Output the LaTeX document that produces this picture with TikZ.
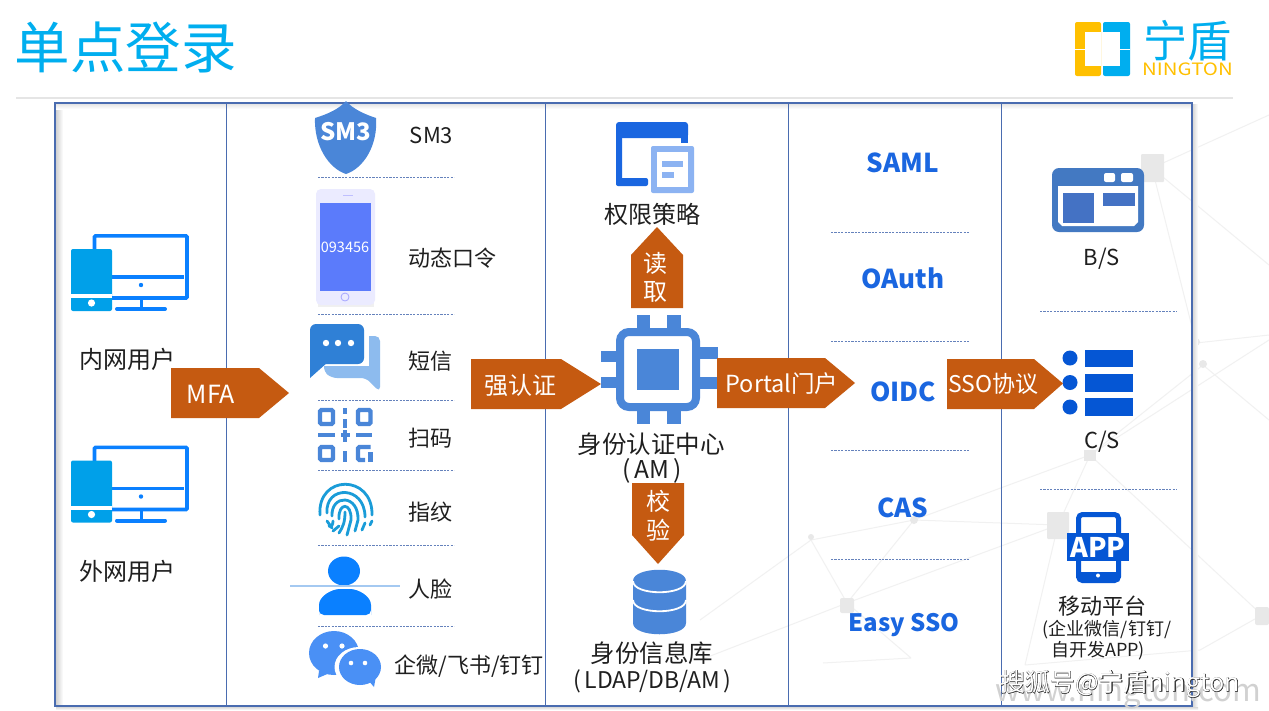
\documentclass[tikz,border=0pt]{standalone}
\usepackage{fontspec}
\setmainfont{Noto Sans CJK SC}
\definecolor{orangeA}{HTML}{C55A11}
\definecolor{frameB}{HTML}{4A6CB0}
\definecolor{iconB}{HTML}{4A86D8}
\definecolor{protoB}{HTML}{1A66E0}
\definecolor{pcB}{HTML}{0A80FF}
\definecolor{pcC}{HTML}{00A0E9}
\definecolor{cyanT}{HTML}{00AEEF}
\definecolor{netG}{HTML}{F1F1F1}
\definecolor{netD}{HTML}{E8E8E8}
\definecolor{csB}{HTML}{0556D4}
\definecolor{screenB}{HTML}{5B7BFB}
\definecolor{bubbleD}{HTML}{2F80D6}
\definecolor{bubbleL}{HTML}{8DBBEE}
\definecolor{chatB}{HTML}{4A90F5}
\definecolor{cardL}{HTML}{8CB3F2}
\definecolor{fingerB}{HTML}{1A9CD8}
\definecolor{blockB}{HTML}{4472C4}
\definecolor{yellowL}{HTML}{FFC000}
\tikzset{
  ft/.style={font=\fontsize{#1}{#1}\selectfont},
  lab/.style={ft=#1,text=black!88,inner sep=0pt},
  lab/.default=22,
  wlab/.style={ft=#1,text=white,inner sep=0pt},
  proto/.style={font=\fontsize{#1}{#1}\selectfont\bfseries,text=protoB,inner sep=0pt},
  proto/.default=26,
  divider/.style={frameB,line width=0.9pt},
  sep/.style={draw=frameB!85,line width=0.7pt,dash pattern=on 2.2pt off 1.2pt},
  arrowfill/.style={fill=orangeA},
  net/.style={draw=netG,line width=1pt},
  pcicon/.pic={
    \draw[pcB,line width=3.6pt,rounded corners=1pt] (23.5,2) -- (23.5,-13.2) -- (116,-13.2) -- (116,49) -- (40,49);
    \draw[pcB,line width=3.2pt] (40,28) -- (113,28);
    \fill[pcB] (70,36) circle (2.2pt);
    \draw[pcB,line width=3pt] (70,50) -- (70,60);
    \draw[pcB,line width=4pt,line cap=round] (46,60) -- (94,60);
    \fill[pcC,rounded corners=2pt] (0,0) rectangle (41,62);
    \fill[white] (0,45) rectangle (41,49);
    \fill[white] (20.5,54) circle (3.6pt);
  }
}
\begin{document}
\begin{tikzpicture}[x=1pt,y=-1pt]
\useasboundingbox (0,0) rectangle (1269,710);
\fill[white] (0,0) rectangle (1269,710);
% background network
\draw[net] (1152,168) -- (1269,115) (1152,168) -- (1269,265) (1152,168) -- (1196,343) (1196,343) -- (1269,335) (1203,365) -- (1269,420) (1090,455) -- (1203,365) (914,520) -- (1058,525) (914,520) -- (847,603) (811,540) -- (847,603) (811,540) -- (914,520) (811,540) -- (700,620) (847,603) -- (1058,525) (847,603) -- (700,660) (1090,455) -- (914,520) (1090,455) -- (1058,525) (1090,455) -- (1262,615) (1058,525) -- (1025,665) (1025,665) -- (1200,650) (1200,650) -- (1262,615) (1090,455) -- (1269,340) (823,663) -- (911,658) (911,658) -- (847,603);
\fill[netD,rounded corners=1pt] (1141,154) rectangle (1164,182);
\fill[netD,rounded corners=1pt] (1047,512) rectangle (1069,539);
\fill[netD] (1084,450) rectangle (1096,461);
\fill[netD,rounded corners=2pt] (840,598) rectangle (854,613);
\fill[netD,rounded corners=2pt] (1255,607) rectangle (1269,625);
\fill[netD] (1203,364) circle (4pt);
\fill[netD] (914,520) circle (4pt);
\fill[netD] (811,537) circle (3pt);
\fill[netD] (1196,342) circle (4pt);
% title and rule
\node[ft=55.5,text=cyanT,inner sep=0pt] (title) at (125.5,47) {单点登录};
\draw[black!10,line width=2pt] (16,98) -- (1233,98);
% logo
\fill[yellowL,rounded corners=2pt] (1075,22) rectangle (1101,76);
\fill[white] (1085,32) rectangle (1101,66);
\fill[white] (1075,48.5) rectangle (1086,50);
\fill[cyanT,rounded corners=2pt] (1103,22) rectangle (1130,76);
\fill[white] (1103,32) rectangle (1120,66);
\fill[white] (1119,48.5) rectangle (1130,50);
\node[ft=44,text=cyanT,inner sep=0pt] (logoa) at (1187.5,41) {宁盾};
\node[ft=17,text=yellowL,inner sep=0pt,xscale=1.2] (logob) at (1187.5,69.5) {NINGTON};
% frame shadows
\shade[left color=black!18,right color=white] (56,104) rectangle (63,705);
\shade[top color=black!10,bottom color=white] (56,104) rectangle (1191,109);
\shade[left color=black!15,right color=white] (1193,104) rectangle (1198,707);
\shade[top color=black!15,bottom color=white] (56,707) rectangle (1198,710);
\draw[frameB,line width=1.7pt] (55,103) rectangle (1192,706);
\draw[divider] (226.5,103) -- (226.5,706);
\draw[divider] (545.5,103) -- (545.5,706);
\draw[divider] (788.5,103) -- (788.5,706);
\draw[divider] (1001.5,103) -- (1001.5,706);
% users
\pic at (71,249) {pcicon};
\pic at (71,460.5) {pcicon};
\node[lab=24] (inner) at (127,359) {内网用户};
\node[lab=24] (outer) at (127,571) {外网用户};
% separators column 2
\draw[sep] (318,177.5) -- (454,177.5);
\draw[sep] (318,314.5) -- (454,314.5);
\draw[sep] (318,400.5) -- (454,400.5);
\draw[sep] (318,470.5) -- (454,470.5);
\draw[sep] (318,545.5) -- (454,545.5);
\draw[sep] (318,626.5) -- (454,626.5);
% SM3 shield
\fill[iconB] (346,101) .. controls (339,109) and (328,114) .. (315,118) .. controls (314,145) and (328,168) .. (346,174) .. controls (364,168) and (378,145) .. (376,118) .. controls (364,114) and (353,109) .. (346,101) -- cycle;
\node[font=\fontsize{24}{24}\selectfont\bfseries,text=white,inner sep=0pt] (shield) at (345.5,132) {SM3};
\node[lab] (lsm) at (431.5,135) {SM3};
% phone
\fill[black!6] (318,303) rectangle (374,307);
\fill[blue!8,rounded corners=5pt] (316,189) rectangle (375,305);
\fill[screenB] (320,203) rectangle (371,291);
\node[ft=14.5,text=white,inner sep=0pt] (otp) at (345,247) {093456};
\draw[blue!35,line width=0.8pt] (345,297) circle (4pt);
\draw[blue!25,line width=0.8pt] (343,195.5) -- (353,195.5);
\node[lab] (lotp) at (452,258) {动态口令};
% sms
\fill[bubbleL,rounded corners=5pt] (345,336) -- (380,336) -- (380,360) -- (380,392) -- (366,378) -- (332,378) -- (324,372) -- (324,340) -- cycle;
\fill[white] (320,330) rectangle (369,366);
\fill[bubbleD,rounded corners=6pt] (310,324) rectangle (364,364);
\fill[bubbleD] (310,345) -- (310,378) -- (328,362) -- (320,350) -- cycle;
\fill[white] (326,343) circle (3.2pt) (338,343) circle (3.2pt) (351,343) circle (3.2pt);
\node[lab] (lsms) at (430,361) {短信};
% QR
\begin{scope}[iconB,line width=4.4pt]
\draw[rounded corners=1.5pt] (320,410) rectangle (333,424);
\draw[rounded corners=1.5pt] (358,410) rectangle (370.5,424);
\draw[rounded corners=1.5pt] (320,447) rectangle (333,460);
\draw (318,435) -- (335,435) (341,435) -- (350,435) (356,435) -- (372,435);
\draw (345,408) -- (345,414) (345,419) -- (345,428) (345,430) -- (345,442) (345,451) -- (345,462);
\draw[rounded corners=1.5pt] (370.5,447) -- (358,447) -- (358,460) -- (365,460);
\draw (370.5,452) -- (370.5,462);
\end{scope}
\node[lab] (lqr) at (430,438) {扫码};
% fingerprint
\begin{scope}[draw=fingerB,line width=2.8pt,line cap=round]
\draw (320,515) .. controls (317,474) and (373,474) .. (372,515);
\draw (327,513) .. controls (325,485) and (365,485) .. (365,517);
\draw (332,516) .. controls (331,494) and (359,494) .. (358,520) -- (355,531);
\draw (339,519) .. controls (338,502) and (352,502) .. (351,520) -- (347,535);
\draw (345,512) .. controls (345,522) and (343,527) .. (339,533);
\draw (327,521) -- (332,528);
\draw (333,521) .. controls (333,525) and (331,528) .. (329,526);
\draw (365,523) -- (362,530);
\draw (339,526) -- (333,531);
\draw (372,521) -- (370,525);
\end{scope}
\node[lab] (lfp) at (430,512) {指纹};
% face
\fill[pcB] (344,571) ellipse [x radius=16pt,y radius=14.5pt];
\fill[pcB,rounded corners=5pt] (319,615) -- (319,610) .. controls (319,596) and (332,589) .. (345,589) .. controls (358,589) and (371,596) .. (371,610) -- (371,615) -- cycle;
\draw[bubbleL!80!white,line width=2.4pt] (290,586) -- (400,586);
\node[lab] (lface) at (430,589) {人脸};
% chat
\fill[chatB] (334,653) ellipse [x radius=25pt,y radius=22pt];
\fill[chatB] (319,671) -- (318,678) -- (332,672) -- cycle;
\fill[white] (359,667) ellipse [x radius=24.5pt,y radius=20pt];
\fill[chatB] (360,667) ellipse [x radius=21pt,y radius=18pt];
\fill[chatB] (368,680) -- (374,687) -- (376,676) -- cycle;
\fill[white] (325.5,646) circle (2.6pt) (342,646) circle (2.6pt) (351,663) circle (2.3pt) (365,663) circle (2.3pt);
\node[lab] (lchat) at (469,666) {企微/飞书/钉钉};
% policy icon
\fill[protoB,rounded corners=3pt] (616,122) rectangle (688,138);
\fill[protoB] (681,130) rectangle (688,143);
\fill[protoB,rounded corners=3pt] (616,126) rectangle (622,186);
\fill[protoB,rounded corners=2pt] (616,178) rectangle (648,186);
\fill[cardL,rounded corners=2pt] (651,146) rectangle (694,193);
\fill[white] (657,152) rectangle (688,187);
\fill[cardL] (662,161) rectangle (683,167);
\fill[cardL] (662,172) rectangle (674,178);
\node[lab=24] (lpol) at (652,214) {权限策略};
% read arrow
\fill[arrowfill] (657,227) -- (683,255) -- (683,308) -- (631,308) -- (631,255) -- cycle;
\node[wlab=24] (read1) at (655.5,263) {读};
\node[wlab=24] (read2) at (655.5,292) {取};
% chip
\fill[iconB] (637,315) rectangle (650,332);
\fill[iconB] (667,315) rectangle (681,332);
\fill[iconB] (637,408) rectangle (650,424);
\fill[iconB] (667,408) rectangle (681,424);
\fill[iconB] (601,351) rectangle (620,362);
\fill[iconB] (601,377) rectangle (620,388);
\fill[iconB] (696,347) rectangle (718,359);
\fill[iconB] (696,377) rectangle (718,389);
\draw[iconB,line width=8pt,rounded corners=9pt] (620,332) rectangle (696,407);
\fill[iconB] (637,349) rectangle (679,390);
\node[lab=24.5] (lam1) at (651,444) {身份认证中心};
\node[lab=24.5] (lam2) at (652,471) {(\,AM\,)};
% verify arrow
\fill[arrowfill] (632,483) -- (684,483) -- (684,535) -- (658,564) -- (632,535) -- cycle;
\node[wlab=24] (ver1) at (658,501) {校};
\node[wlab=24] (ver2) at (658,530) {验};
% database
\fill[iconB] (633,581) .. controls (633,566) and (686,566) .. (686,581) -- (686,623) .. controls (686,638) and (633,638) .. (633,623) -- cycle;
\draw[white,line width=1.8pt] (633,581) .. controls (633,596) and (686,596) .. (686,581);
\draw[white,line width=1.8pt] (633,600) .. controls (633,615) and (686,615) .. (686,600);
\node[lab=24.5] (ldb1) at (652,653) {身份信息库};
\node[lab=23] (ldb2) at (652.5,681) {(\,LDAP/DB/AM\,)};
% protocols
\draw[sep] (831,232.5) -- (969,232.5);
\draw[sep] (831,341.5) -- (969,341.5);
\draw[sep] (831,450.5) -- (969,450.5);
\draw[sep] (831,559.5) -- (969,559.5);
\node[proto] (saml) at (903,162.5) {SAML};
\node[proto] (oauth) at (903,278) {OAuth};
\node[proto] (oidc) at (903,392) {OIDC};
\node[proto] (cas) at (903,508) {CAS};
\node[proto=24] (easy) at (904,625) {Easy SSO};
% B/S
\fill[iconB!90!black,rounded corners=7pt] (1052,168) rectangle (1144,232);
\fill[white] (1058,186) -- (1138,186) -- (1138,222) -- (1134,226) -- (1062,226) -- (1058,222) -- cycle;
\fill[blockB] (1063,193) rectangle (1094,223);
\fill[blockB] (1103,193) rectangle (1135,206);
\fill[white,rounded corners=2pt] (1104,173) rectangle (1115,182);
\fill[white,rounded corners=2pt] (1121,173) rectangle (1133,182);
\node[lab] (lbs) at (1102,259) {B/S};
\draw[sep] (1040,311) -- (1177,311);
% C/S
\fill[csB] (1085,350) rectangle (1133,367);
\fill[csB] (1085,374) rectangle (1133,392);
\fill[csB] (1085,398) rectangle (1133,416);
\fill[csB] (1070,358) circle (7.5pt) (1070,382.5) circle (7.5pt) (1070,407) circle (7.5pt);
\node[lab] (lcs) at (1102,442) {C/S};
\draw[sep] (1040,489.5) -- (1177,489.5);
% APP
\draw[csB,line width=5pt,rounded corners=4pt] (1078.5,514.5) rectangle (1118.5,580.5);
\fill[csB] (1076,572) rectangle (1121,578);
\fill[white] (1098,575.5) circle (2pt);
\fill[csB] (1067,533) rectangle (1129,561);
\node[font=\fontsize{27}{27}\selectfont\bfseries,text=white,inner sep=0pt] (app) at (1098,547) {APP};
\node[lab] (lm1) at (1102,606) {移动平台};
\node[lab=18] (lm2) at (1107,630) {(企业微信/钉钉/};
\node[lab=18] (lm3) at (1098,651) {自开发APP)};
% horizontal arrows
\fill[arrowfill] (171,368) -- (259,368) -- (289,393) -- (259,418) -- (171,418) -- cycle;
\node[wlab=25] (mfa) at (211,394) {MFA};
\fill[arrowfill] (471,359) -- (561,359) -- (601,384) -- (561,409) -- (471,409) -- cycle;
\node[wlab=24] (strong) at (520,385) {强认证};
\fill[arrowfill] (717,358) -- (825,358) -- (855,383) -- (825,408) -- (717,408) -- cycle;
\node[wlab=23.5] (portal) at (782,384) {Portal门户};
\fill[arrowfill] (947,359) -- (1034,359) -- (1063,383.5) -- (1034,409) -- (947,409) -- cycle;
\node[wlab=23] (sso) at (993.5,384) {SSO协议};
% watermark
\node[ft=31,text=black!18,inner sep=0pt] (www) at (1128,693) {www.nington.com};
\node[text=black!85,inner sep=0pt] (wmbold) at (1120,684) {\fontspec[FakeBold=2]{Noto Sans CJK SC}\fontsize{25}{25}\selectfont 搜狐号@宁盾nington};
\node[ft=25,text=white,inner sep=0pt] (wmtop) at (1120,684) {搜狐号@宁盾nington};
\end{tikzpicture}
\end{document}
